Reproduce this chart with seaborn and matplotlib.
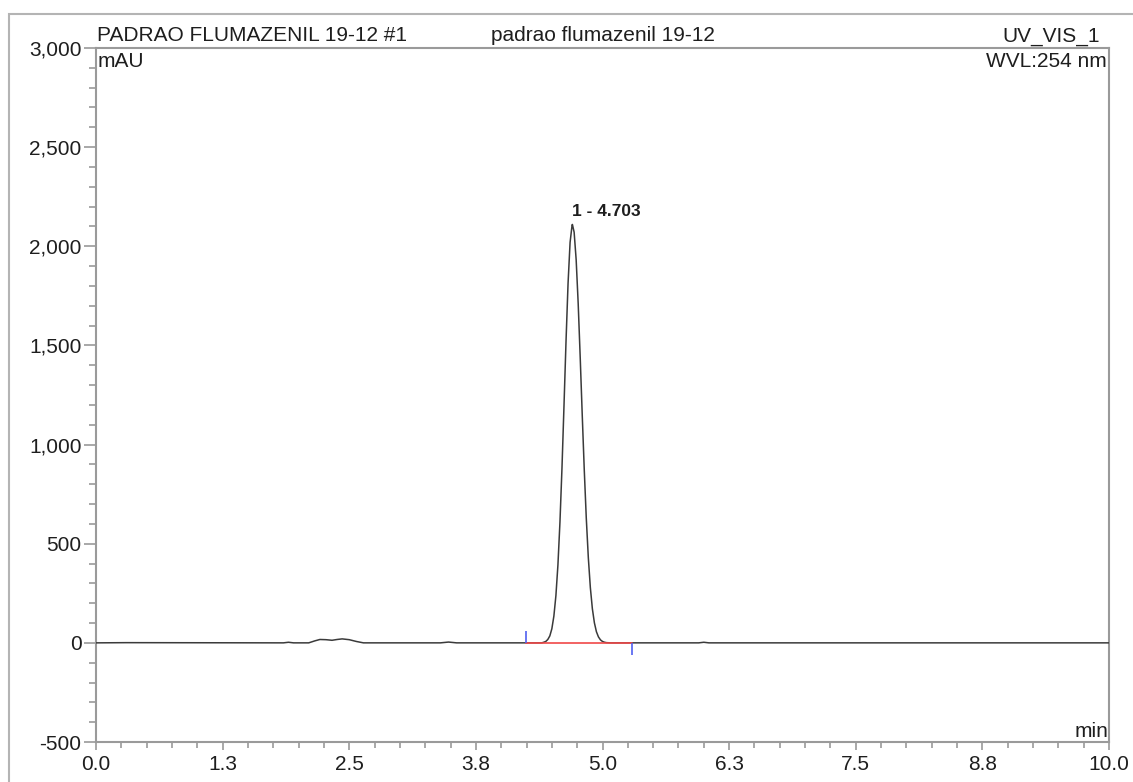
import numpy as np
import pandas as pd
import seaborn as sns
import matplotlib.pyplot as plt
from matplotlib.patches import Rectangle
from matplotlib.ticker import MultipleLocator, FixedLocator, FuncFormatter

# baseline before the peak (min, mAU)
base_time_a = [0.0, 0.3, 1.85, 1.90, 1.95, 2.10, 2.16, 2.21, 2.27, 2.33, 2.38,
               2.43, 2.50, 2.57, 2.64, 3.40, 3.48, 3.56, 4.40]
base_signal_a = [0, 1, 0, 3, 0, 0, 10, 17, 16, 13, 17, 20, 16, 7, 0, 0, 4, 0, 0]

# main peak
peak_time = [4.42, 4.44, 4.46, 4.48, 4.50, 4.52, 4.54, 4.56, 4.58, 4.60, 4.62,
             4.64, 4.66, 4.68, 4.70, 4.703, 4.72, 4.74, 4.76, 4.78, 4.80, 4.82,
             4.84, 4.86, 4.88, 4.90, 4.92, 4.94, 4.96, 4.98, 5.00, 5.02, 5.04]
peak_signal = [3, 7, 17, 35, 71, 135, 238, 393, 609, 882, 1198, 1523, 1813,
               2020, 2108, 2110, 2071, 1932, 1711, 1439, 1149, 872, 628, 430,
               279, 172, 101, 56, 30, 15, 7, 3, 1]

# baseline after the peak
base_time_b = [5.08, 5.95, 6.00, 6.05, 10.0]
base_signal_b = [0, 0, 3, 0, 0]

# integration limits of peak 1
int_time = [4.245, 5.29]
int_low = [0, -60]
int_high = [60, 0]

peak_rt = 4.703
peak_height = 2110
peak_label = "1 - 4.703"

x_ticks = [0.0, 1.25, 2.5, 3.75, 5.0, 6.25, 7.5, 8.75, 10.0]
x_tick_labels = ["0.0", "1.3", "2.5", "3.8", "5.0", "6.3", "7.5", "8.8", "10.0"]

df = pd.DataFrame({
    "time": base_time_a + peak_time + base_time_b,
    "signal": base_signal_a + peak_signal + base_signal_b,
})
df_int = pd.DataFrame({"time": int_time, "signal": [0, 0]})

sns.set_theme(style="white")
plt.rcParams['font.family'] = ['Liberation Sans', 'DejaVu Sans']

W, H = 1133, 782
fig = plt.figure(figsize=(W / 100, H / 100), dpi=100)
fig.patch.set_facecolor("white")

# outer frame of the report
fig.add_artist(Rectangle((9 / W, -0.5), 2.0, 0.5 + 1 - 14 / H, transform=fig.transFigure,
                         fill=False, edgecolor="#b4b4b4", linewidth=1.5))

ax = fig.add_axes([96 / W, 40 / H, 1013 / W, 694 / H])
ax.set_facecolor("white")

sns.lineplot(data=df, x="time", y="signal", ax=ax, color="#3a3a3a",
             linewidth=1.1, sort=False, estimator=None, zorder=3)
sns.lineplot(data=df_int, x="time", y="signal", ax=ax, color="#f04848",
             linewidth=1.2, estimator=None, zorder=4)
ax.vlines(int_time, int_low, int_high, color="#5060f0", linewidth=1.2, zorder=5)

ax.set_xlim(0, 10)
ax.set_ylim(-500, 3000)
ax.set_xlabel("")
ax.set_ylabel("")

ax.xaxis.set_major_locator(FixedLocator(x_ticks))
ax.set_xticklabels(x_tick_labels)
ax.xaxis.set_minor_locator(MultipleLocator(0.25))
ax.yaxis.set_major_locator(MultipleLocator(500))
ax.yaxis.set_minor_locator(MultipleLocator(100))
ax.yaxis.set_major_formatter(FuncFormatter(lambda v, p: f"{v:,.0f}"))

txt_col = "#1e1e1e"
spine_col = "#9a9a9a"
for s in ax.spines.values():
    s.set_color(spine_col)
    s.set_linewidth(1.5)
ax.tick_params(axis="both", which="both", direction="out", color=spine_col,
               labelcolor=txt_col, labelsize=15, width=1.2)
ax.tick_params(axis="y", which="major", length=9, pad=1.5, left=True)
ax.tick_params(axis="y", which="minor", length=5, left=True)
ax.tick_params(axis="x", which="major", length=6, pad=3, bottom=True)
ax.tick_params(axis="x", which="minor", length=4, bottom=True)

fs = 15
ax.annotate("PADRAO FLUMAZENIL 19-12 #1", xy=(0, 1), xycoords="axes fraction",
            xytext=(1, 7), textcoords="offset pixels", ha="left", va="baseline",
            fontsize=fs, color=txt_col)
ax.annotate("padrao flumazenil 19-12", xy=(0.5, 1), xycoords="axes fraction",
            xytext=(0, 7), textcoords="offset pixels", ha="center", va="baseline",
            fontsize=fs, color=txt_col)
ax.annotate("UV_VIS_1", xy=(1, 1), xycoords="axes fraction",
            xytext=(-9, 6), textcoords="offset pixels", ha="right", va="baseline",
            fontsize=fs, color=txt_col)
ax.annotate("mAU", xy=(0, 1), xycoords="axes fraction",
            xytext=(2, -4), textcoords="offset pixels", ha="left", va="top",
            fontsize=fs, color=txt_col)
ax.annotate("WVL:254 nm", xy=(1, 1), xycoords="axes fraction",
            xytext=(-2, -4), textcoords="offset pixels", ha="right", va="top",
            fontsize=fs, color=txt_col)
ax.annotate("min", xy=(1, 0), xycoords="axes fraction",
            xytext=(-1, 5), textcoords="offset pixels", ha="right", va="baseline",
            fontsize=fs, color=txt_col)
ax.annotate(peak_label, xy=(peak_rt, peak_height), xytext=(0, 5),
            textcoords="offset pixels", ha="left", va="bottom",
            fontsize=12.5, fontweight="bold", color=txt_col)

fig.savefig("out.png", dpi=100)
